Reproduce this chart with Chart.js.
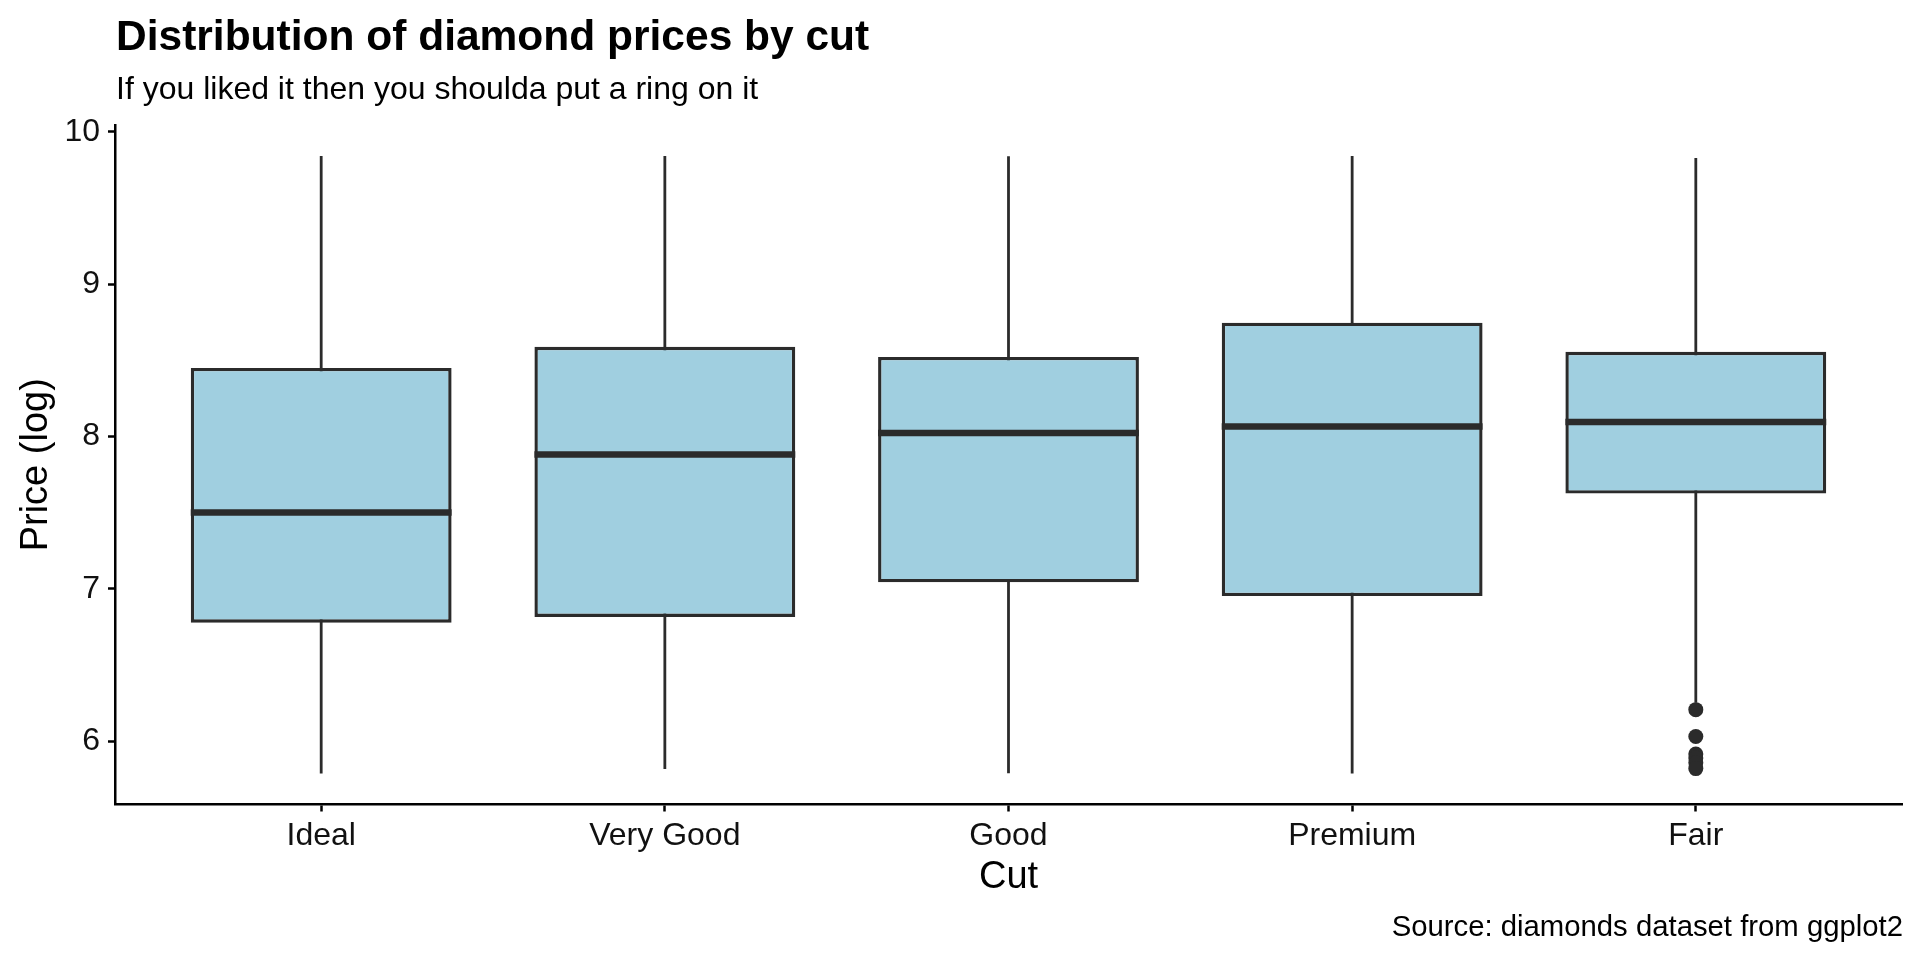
<!DOCTYPE html>
<html><head><meta charset="utf-8">
<script src="https://cdn.jsdelivr.net/npm/chart.js@4/dist/chart.umd.min.js"></script>
<style>html,body{margin:0;padding:0;background:#fff;overflow:hidden}canvas{display:block}</style>
</head><body>
<canvas id="c" width="1920" height="960" style="width:1920px;height:960px"></canvas>
<script>
// ---- data (natural log of price) ----
const categories = ['Ideal', 'Very Good', 'Good', 'Premium', 'Fair'];
const whiskerLow  = [5.787, 5.817, 5.790, 5.787, 6.253];
const q1          = [6.778, 6.816, 7.043, 6.953, 7.626];
const median      = [7.501, 7.882, 8.023, 8.066, 8.096];
const q3          = [8.451, 8.589, 8.523, 8.748, 8.557];
const whiskerHigh = [9.842, 9.843, 9.841, 9.843, 9.829];
const outlierCategory = ['Fair', 'Fair', 'Fair', 'Fair', 'Fair', 'Fair'];
const outlierValues   = [6.207, 6.031, 5.916, 5.889, 5.858, 5.820];
const yTicks = [6, 7, 8, 9, 10];

const titleText = 'Distribution of diamond prices by cut';
const subtitleText = 'If you liked it then you shoulda put a ring on it';
const captionText = 'Source: diamonds dataset from ggplot2';
const xTitle = 'Cut';
const yTitle = 'Price (log)';

// ---- styles ----
const FONT = '"Liberation Sans", Arial, Helvetica, sans-serif';
const LINE = '#2b2b2b';
const FILL = '#a0cfe0';

// ggplot-like expansion of scales
const allVals = whiskerLow.concat(whiskerHigh, outlierValues);
const dMin = Math.min(...allVals), dMax = Math.max(...allVals);
const yPad = (dMax - dMin) * 0.05;

const boxPlugin = {
  id: 'boxParts',
  beforeDatasetsDraw(chart) {
    const ctx = chart.ctx, y = chart.scales.y;
    const meta = chart.getDatasetMeta(0);
    ctx.save();
    ctx.strokeStyle = LINE;
    ctx.lineWidth = 2.8;
    ctx.lineCap = 'butt';
    meta.data.forEach((el, i) => {
      ctx.beginPath();
      ctx.moveTo(el.x, y.getPixelForValue(whiskerLow[i]));
      ctx.lineTo(el.x, y.getPixelForValue(whiskerHigh[i]));
      ctx.stroke();
    });
    ctx.restore();
  },
  afterDatasetsDraw(chart) {
    const ctx = chart.ctx, y = chart.scales.y;
    const meta = chart.getDatasetMeta(0);
    ctx.save();
    ctx.strokeStyle = LINE;
    ctx.lineWidth = 6.5;
    ctx.lineCap = 'butt';
    meta.data.forEach((el, i) => {
      const py = y.getPixelForValue(median[i]);
      ctx.beginPath();
      ctx.moveTo(el.x - el.width / 2, py);
      ctx.lineTo(el.x + el.width / 2, py);
      ctx.stroke();
    });
    ctx.restore();
  },
  afterDraw(chart) {
    const ctx = chart.ctx;
    ctx.save();
    ctx.fillStyle = '#000';
    ctx.textBaseline = 'alphabetic';
    ctx.textAlign = 'left';
    ctx.font = 'bold 42.5px ' + FONT;
    ctx.fillText(titleText, 116, 50);
    ctx.font = '32px ' + FONT;
    ctx.fillText(subtitleText, 116, 99);
    ctx.font = '29.3px ' + FONT;
    ctx.textAlign = 'right';
    ctx.fillText(captionText, 1903, 936);
    ctx.restore();
  }
};

new Chart(document.getElementById('c'), {
  type: 'bar',
  data: {
    datasets: [
      {
        type: 'bar',
        data: categories.map((c, i) => ({ x: i + 1, y: [q1[i], q3[i]] })),
        backgroundColor: FILL,
        borderColor: LINE,
        borderWidth: 3.4,
        borderSkipped: false,
        barPercentage: 0.759,
        categoryPercentage: 1,
        order: 2
      },
      {
        type: 'scatter',
        data: outlierValues.map((v, i) => ({ x: categories.indexOf(outlierCategory[i]) + 1, y: v })),
        backgroundColor: LINE,
        borderWidth: 0,
        pointRadius: 7.5,
        order: 1
      }
    ]
  },
  options: {
    responsive: false,
    devicePixelRatio: 1,
    animation: false,
    events: [],
    layout: { padding: { top: 125, right: 18, left: 0, bottom: 55.5 } },
    plugins: { legend: { display: false }, tooltip: { enabled: false }, title: { display: false } },
    scales: {
      x: {
        type: 'linear',
        min: 1 - 0.6,
        max: categories.length + 0.6,
        offset: false,
        afterFit: s => { s.height = 100; },
        afterBuildTicks: s => { s.ticks = categories.map((c, i) => ({ value: i + 1 })); },
        ticks: {
          callback: v => categories[Math.round(v) - 1] || '',
          font: { family: FONT, size: 32 },
          color: '#111',
          padding: 5,
          maxRotation: 0,
          autoSkip: false
        },
        grid: { display: true, drawOnChartArea: false, drawTicks: true, tickLength: 7, tickColor: '#000', tickWidth: 2.5, offset: false },
        border: { display: true, color: '#000', width: 2.5 },
        title: { display: true, text: xTitle, font: { family: FONT, size: 38 }, color: '#000', padding: { top: 0, bottom: 4 } }
      },
      y: {
        type: 'linear',
        min: dMin - yPad,
        max: dMax + yPad,
        afterFit: s => { s.width = 115; },
        afterBuildTicks: s => { s.ticks = yTicks.map(v => ({ value: v })); },
        ticks: {
          font: { family: FONT, size: 32 },
          color: '#111',
          padding: 8
        },
        grid: { display: true, drawOnChartArea: false, drawTicks: true, tickLength: 7, tickColor: '#000', tickWidth: 2.5 },
        border: { display: true, color: '#000', width: 2.5 },
        title: { display: true, text: yTitle, font: { family: FONT, size: 38 }, color: '#000', padding: { top: 14, bottom: 0 } }
      }
    }
  },
  plugins: [boxPlugin]
});
</script>
</body></html>
